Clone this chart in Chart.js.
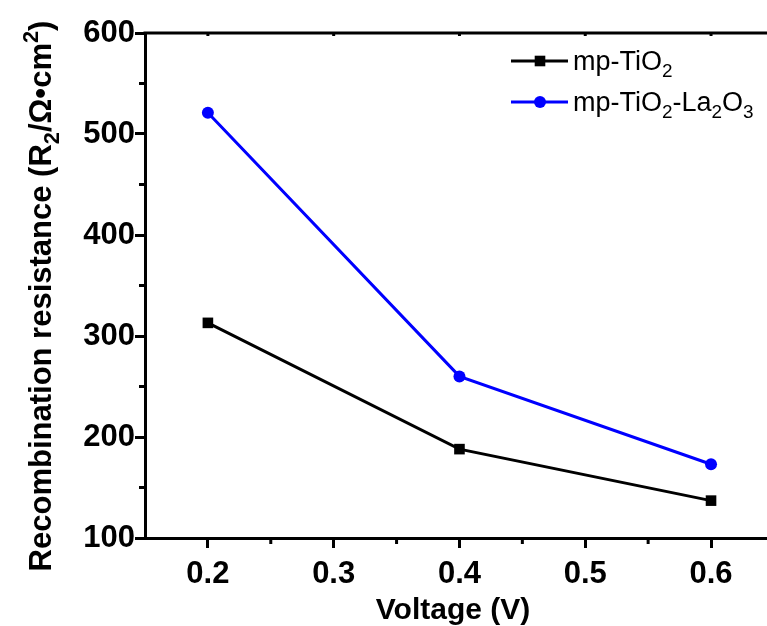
<!DOCTYPE html>
<html><head><meta charset="utf-8">
<script src="https://cdn.jsdelivr.net/npm/chart.js@4/dist/chart.umd.min.js"></script>
<style>html,body{margin:0;padding:0;background:#fff}#wrap{width:767px;height:626px}</style>
</head><body><div id="wrap"><canvas id="c" width="767" height="626"></canvas></div>
<script>
const voltages = [0.2, 0.4, 0.6];
const seriesNames = ['mp-TiO_2', 'mp-TiO_2-La_2O_3'];
const tio2Values = [313, 188, 137];
const tio2La2o3Values = [521, 260, 173];
const xTicks = [0.2, 0.3, 0.4, 0.5, 0.6];
const yTicks = [100, 200, 300, 400, 500, 600];
const xMinorTicks = [0.25, 0.35, 0.45, 0.55];
const yMinorTicks = [150, 250, 350, 450, 550];
const xTitle = 'Voltage (V)';
const yTitle = 'Recombination resistance (R_2/\u03A9\u2022cm^2)';

const FAM = '"Liberation Sans", Arial, sans-serif';
function plain(s){ return s.replace(/[_^]/g, ''); }
function parseRich(s){
  const segs = []; let i = 0, buf = '';
  while (i < s.length) {
    const c = s[i];
    if ((c === '_' || c === '^') && i + 1 < s.length) {
      if (buf) { segs.push({t: buf, k: 0}); buf = ''; }
      segs.push({t: s[i+1], k: c === '_' ? 1 : -1}); i += 2;
    } else { buf += c; i++; }
  }
  if (buf) segs.push({t: buf, k: 0});
  return segs;
}
function drawRich(ctx, s, x, y, size, weight, align){
  const segs = parseRich(s); const small = size * 0.7; let w = 0;
  segs.forEach(g => { ctx.font = `${weight} ${g.k ? small : size}px ${FAM}`; g.w = ctx.measureText(g.t).width; w += g.w; });
  let cx = align === 'center' ? x - w/2 : x;
  ctx.textAlign = 'left'; ctx.textBaseline = 'alphabetic';
  segs.forEach(g => {
    ctx.font = `${weight} ${g.k ? small : size}px ${FAM}`;
    const dy = g.k === 1 ? size*0.25 : (g.k === -1 ? -size*0.42 : 0);
    ctx.fillText(g.t, cx, y + dy); cx += g.w;
  });
}

const colors = ['#000000', '#0000ff'];
const styles = ['rect', 'circle'];
const radii = [7.5, 6];

const decor = {
  id: 'decor',
  afterDraw(chart){
    const ctx = chart.ctx, a = chart.chartArea, xs = chart.scales.x, ys = chart.scales.y;
    ctx.save();
    ctx.strokeStyle = '#000'; ctx.fillStyle = '#000'; ctx.lineWidth = 3; ctx.lineCap = 'butt';
    ctx.beginPath(); ctx.moveTo(a.left - 1.5, a.top); ctx.lineTo(a.right, a.top); ctx.stroke();
    xTicks.forEach(v => { const p = xs.getPixelForValue(v); ctx.beginPath(); ctx.moveTo(p, a.top); ctx.lineTo(p, a.top + 3); ctx.stroke(); });
    xMinorTicks.forEach(v => { const p = xs.getPixelForValue(v); ctx.beginPath(); ctx.moveTo(p, a.bottom); ctx.lineTo(p, a.bottom + 6); ctx.stroke(); });
    yMinorTicks.forEach(v => { const p = ys.getPixelForValue(v); ctx.beginPath(); ctx.moveTo(a.left, p); ctx.lineTo(a.left - 6, p); ctx.stroke(); });
    drawRich(ctx, xTitle, 453, 619, 30, 'bold', 'center');
    ctx.save(); ctx.translate(51, 296); ctx.rotate(-Math.PI/2);
    drawRich(ctx, yTitle, 0, 0, 31, 'bold', 'center');
    ctx.restore();
    const rows = [61, 102];
    seriesNames.forEach((name, i) => {
      const y = rows[i];
      ctx.strokeStyle = colors[i]; ctx.fillStyle = colors[i]; ctx.lineWidth = 3;
      ctx.beginPath(); ctx.moveTo(511, y); ctx.lineTo(568, y); ctx.stroke();
      if (styles[i] === 'rect') { ctx.fillRect(540 - 5.3, y - 5.3, 10.6, 10.6); }
      else { ctx.beginPath(); ctx.arc(540, y, 6, 0, Math.PI*2); ctx.fill(); }
      ctx.fillStyle = '#000';
      drawRich(ctx, name, 573, y + 9, 27, 'normal', 'left');
    });
    ctx.restore();
  }
};

new Chart(document.getElementById('c'), {
  type: 'line',
  data: {
    datasets: [
      { label: plain(seriesNames[0]), data: voltages.map((v, i) => ({x: v, y: tio2Values[i]})),
        borderColor: colors[0], backgroundColor: colors[0], borderWidth: 3,
        pointStyle: styles[0], pointRadius: radii[0], pointBorderWidth: 0, tension: 0 },
      { label: plain(seriesNames[1]), data: voltages.map((v, i) => ({x: v, y: tio2La2o3Values[i]})),
        borderColor: colors[1], backgroundColor: colors[1], borderWidth: 3,
        pointStyle: styles[1], pointRadius: radii[1], pointBorderWidth: 0, tension: 0 }
    ]
  },
  options: {
    responsive: false, animation: false, devicePixelRatio: 1,
    layout: { autoPadding: false, padding: { top: 33, right: 0, left: 0, bottom: 0 } },
    plugins: { legend: { display: false }, tooltip: { enabled: false } },
    scales: {
      x: {
        type: 'linear', min: 0.15, max: 0.6445,
        afterBuildTicks: s => { s.ticks = xTicks.map(v => ({value: v})); },
        afterFit: s => { s.height = 88; s.paddingLeft = 0; s.paddingRight = 0; },
        ticks: { font: { family: FAM, size: 31, weight: 'bold' }, color: '#000', padding: 8, maxRotation: 0, autoSkip: false,
                 callback: v => Number(v).toFixed(1) },
        grid: { display: true, drawOnChartArea: false, drawTicks: true, tickLength: 10, color: '#000', lineWidth: 3 },
        border: { display: true, color: '#000', width: 3 }
      },
      y: {
        min: 100, max: 600,
        afterBuildTicks: s => { s.ticks = yTicks.map(v => ({value: v})); },
        afterFit: s => { s.width = 145; },
        ticks: { font: { family: FAM, size: 31, weight: 'bold' }, color: '#000', padding: 0, autoSkip: false,
                 callback: v => String(v) },
        grid: { display: true, drawOnChartArea: false, drawTicks: true, tickLength: 10, color: '#000', lineWidth: 3 },
        border: { display: true, color: '#000', width: 3 }
      }
    }
  },
  plugins: [decor]
});
</script></body></html>
